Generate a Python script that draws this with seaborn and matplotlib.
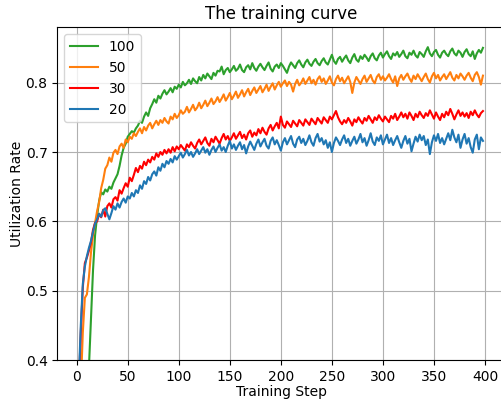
import matplotlib
matplotlib.use("Agg")
import matplotlib.pyplot as plt
import seaborn as sns
import numpy as np
import pandas as pd

steps = list(range(0, 400, 2))

series_names = ["100", "50", "30", "20"]
series_colors = ["#2ca02c", "#ff7f0e", "red", "#1f77b4"]

util_100 = [
    0.150, 0.190, 0.230, 0.270, 0.310, 0.350, 0.390, 0.460, 0.530, 0.580,
    0.608, 0.630, 0.642, 0.639, 0.646, 0.643, 0.650, 0.647, 0.656, 0.662,
    0.668, 0.680, 0.695, 0.706, 0.712, 0.722, 0.726, 0.730, 0.728, 0.734,
    0.738, 0.745, 0.742, 0.751, 0.757, 0.752, 0.763, 0.769, 0.776, 0.771,
    0.781, 0.777, 0.784, 0.789, 0.783, 0.787, 0.792, 0.786, 0.794, 0.791,
    0.797, 0.793, 0.801, 0.796, 0.799, 0.804, 0.798, 0.806, 0.802, 0.799,
    0.808, 0.803, 0.811, 0.806, 0.813, 0.809, 0.805, 0.814, 0.810, 0.817,
    0.816, 0.823, 0.812, 0.818, 0.821, 0.815, 0.819, 0.824, 0.817, 0.820,
    0.826, 0.818, 0.815, 0.822, 0.825, 0.819, 0.828, 0.821, 0.817, 0.823,
    0.827, 0.822, 0.818, 0.824, 0.829, 0.820, 0.816, 0.823, 0.826, 0.821,
    0.828, 0.824, 0.819, 0.814, 0.823, 0.829, 0.825, 0.821, 0.828, 0.832,
    0.826, 0.822, 0.829, 0.833, 0.827, 0.824, 0.830, 0.834, 0.828, 0.825,
    0.831, 0.835, 0.829, 0.826, 0.833, 0.840, 0.831, 0.827, 0.834, 0.837,
    0.830, 0.835, 0.839, 0.832, 0.828, 0.836, 0.841, 0.833, 0.830, 0.838,
    0.834, 0.840, 0.836, 0.831, 0.838, 0.842, 0.835, 0.832, 0.839, 0.843,
    0.836, 0.841, 0.845, 0.838, 0.834, 0.842, 0.839, 0.844, 0.837, 0.841,
    0.846, 0.838, 0.835, 0.843, 0.840, 0.846, 0.839, 0.836, 0.844, 0.841,
    0.837, 0.845, 0.851, 0.842, 0.838, 0.844, 0.847, 0.840, 0.836, 0.843,
    0.846, 0.841, 0.838, 0.845, 0.849, 0.842, 0.839, 0.846, 0.843, 0.837,
    0.844, 0.848, 0.841, 0.838, 0.845, 0.834, 0.842, 0.847, 0.843, 0.850,
]

util_50 = [
    0.200, 0.280, 0.360, 0.440, 0.490, 0.495, 0.520, 0.555, 0.580, 0.598,
    0.615, 0.628, 0.648, 0.660, 0.676, 0.681, 0.692, 0.686, 0.699, 0.703,
    0.697, 0.708, 0.712, 0.706, 0.718, 0.714, 0.722, 0.719, 0.727, 0.723,
    0.729, 0.734, 0.727, 0.736, 0.731, 0.738, 0.742, 0.734, 0.740, 0.745,
    0.739, 0.746, 0.742, 0.749, 0.744, 0.741, 0.751, 0.747, 0.755, 0.749,
    0.753, 0.760, 0.755, 0.758, 0.765, 0.757, 0.762, 0.768, 0.760, 0.764,
    0.771, 0.763, 0.768, 0.774, 0.766, 0.771, 0.777, 0.769, 0.773, 0.779,
    0.772, 0.777, 0.783, 0.774, 0.779, 0.785, 0.776, 0.781, 0.787, 0.778,
    0.783, 0.789, 0.780, 0.786, 0.791, 0.782, 0.788, 0.793, 0.785, 0.790,
    0.795, 0.786, 0.791, 0.797, 0.788, 0.794, 0.799, 0.790, 0.796, 0.801,
    0.794, 0.799, 0.803, 0.795, 0.801, 0.797, 0.787, 0.798, 0.804, 0.796,
    0.800, 0.806, 0.798, 0.803, 0.808, 0.799, 0.804, 0.797, 0.805, 0.809,
    0.801, 0.806, 0.798, 0.803, 0.809, 0.800, 0.796, 0.805, 0.810, 0.802,
    0.807, 0.799, 0.804, 0.809, 0.801, 0.785, 0.800, 0.808, 0.803, 0.798,
    0.805, 0.810, 0.801, 0.806, 0.811, 0.803, 0.799, 0.808, 0.812, 0.804,
    0.809, 0.803, 0.807, 0.812, 0.805, 0.800, 0.809, 0.795, 0.806, 0.811,
    0.804, 0.809, 0.813, 0.806, 0.801, 0.810, 0.805, 0.812, 0.807, 0.802,
    0.808, 0.813, 0.805, 0.800, 0.809, 0.814, 0.806, 0.811, 0.803, 0.808,
    0.812, 0.805, 0.810, 0.815, 0.807, 0.803, 0.811, 0.806, 0.813, 0.809,
    0.804, 0.810, 0.814, 0.807, 0.802, 0.811, 0.815, 0.808, 0.797, 0.810,
]

util_30 = [
    0.290, 0.360, 0.440, 0.505, 0.540, 0.548, 0.558, 0.570, 0.588, 0.598,
    0.600, 0.611, 0.606, 0.617, 0.607, 0.622, 0.626, 0.620, 0.632, 0.635,
    0.630, 0.645, 0.640, 0.648, 0.655, 0.650, 0.663, 0.658, 0.667, 0.677,
    0.671, 0.680, 0.676, 0.686, 0.681, 0.689, 0.685, 0.693, 0.689, 0.698,
    0.693, 0.700, 0.696, 0.703, 0.698, 0.704, 0.699, 0.707, 0.701, 0.708,
    0.704, 0.710, 0.706, 0.702, 0.711, 0.707, 0.714, 0.709, 0.705, 0.713,
    0.718, 0.711, 0.716, 0.721, 0.713, 0.709, 0.719, 0.714, 0.722, 0.717,
    0.712, 0.720, 0.726, 0.718, 0.723, 0.716, 0.721, 0.727, 0.719, 0.724,
    0.729, 0.720, 0.725, 0.718, 0.727, 0.731, 0.722, 0.728, 0.724, 0.733,
    0.727, 0.735, 0.729, 0.725, 0.734, 0.739, 0.731, 0.737, 0.742, 0.734,
    0.751, 0.739, 0.735, 0.744, 0.740, 0.736, 0.745, 0.741, 0.737, 0.746,
    0.742, 0.738, 0.747, 0.743, 0.739, 0.748, 0.744, 0.740, 0.749, 0.745,
    0.741, 0.750, 0.746, 0.742, 0.751, 0.747, 0.753, 0.759, 0.750, 0.744,
    0.740, 0.746, 0.742, 0.749, 0.744, 0.738, 0.747, 0.743, 0.750, 0.745,
    0.741, 0.749, 0.745, 0.752, 0.747, 0.742, 0.750, 0.746, 0.753, 0.748,
    0.744, 0.751, 0.747, 0.743, 0.752, 0.748, 0.755, 0.746, 0.751, 0.757,
    0.750, 0.755, 0.748, 0.757, 0.752, 0.746, 0.755, 0.750, 0.758, 0.753,
    0.749, 0.756, 0.752, 0.760, 0.754, 0.748, 0.757, 0.751, 0.746, 0.755,
    0.750, 0.758, 0.753, 0.762, 0.755, 0.747, 0.754, 0.760, 0.752, 0.757,
    0.751, 0.756, 0.749, 0.758, 0.753, 0.760, 0.754, 0.750, 0.756, 0.759,
]

util_20 = [
    0.300, 0.370, 0.450, 0.510, 0.535, 0.550, 0.562, 0.572, 0.585, 0.597,
    0.603, 0.611, 0.607, 0.616, 0.619, 0.611, 0.603, 0.612, 0.622, 0.617,
    0.626, 0.620, 0.628, 0.633, 0.627, 0.636, 0.633, 0.641, 0.636, 0.645,
    0.641, 0.652, 0.647, 0.658, 0.654, 0.664, 0.659, 0.668, 0.672, 0.666,
    0.678, 0.673, 0.683, 0.678, 0.687, 0.683, 0.690, 0.685, 0.694, 0.689,
    0.694, 0.699, 0.692, 0.697, 0.703, 0.695, 0.700, 0.693, 0.698, 0.704,
    0.697, 0.702, 0.707, 0.699, 0.704, 0.696, 0.703, 0.708, 0.700, 0.706,
    0.711, 0.702, 0.707, 0.700, 0.709, 0.716, 0.705, 0.711, 0.703, 0.709,
    0.714, 0.704, 0.710, 0.698, 0.708, 0.715, 0.709, 0.703, 0.712, 0.718,
    0.708, 0.714, 0.719, 0.709, 0.705, 0.716, 0.721, 0.711, 0.717, 0.710,
    0.702, 0.714, 0.720, 0.711, 0.717, 0.723, 0.712, 0.707, 0.718, 0.722,
    0.713, 0.719, 0.710, 0.716, 0.724, 0.714, 0.709, 0.720, 0.726, 0.715,
    0.720, 0.711, 0.717, 0.706, 0.714, 0.700, 0.713, 0.721, 0.716, 0.710,
    0.718, 0.724, 0.713, 0.719, 0.709, 0.716, 0.722, 0.712, 0.718, 0.726,
    0.714, 0.720, 0.709, 0.717, 0.727, 0.715, 0.710, 0.721, 0.716, 0.724,
    0.711, 0.718, 0.725, 0.713, 0.720, 0.710, 0.717, 0.723, 0.714, 0.706,
    0.716, 0.723, 0.712, 0.719, 0.701, 0.712, 0.722, 0.715, 0.725, 0.717,
    0.723, 0.710, 0.718, 0.697, 0.714, 0.724, 0.716, 0.726, 0.713, 0.720,
    0.711, 0.719, 0.727, 0.717, 0.732, 0.721, 0.714, 0.725, 0.706, 0.718,
    0.726, 0.712, 0.720, 0.707, 0.699, 0.718, 0.725, 0.704, 0.721, 0.716,
]

all_series = [util_100, util_50, util_30, util_20]
frames = []
for name, vals in zip(series_names, all_series):
    frames.append(pd.DataFrame({"step": steps, "util": vals, "size": name}))
df = pd.concat(frames, ignore_index=True)

fig = plt.figure(figsize=(5.02, 4.0), dpi=100)
ax = fig.add_axes([57.3 / 502, 39.7 / 400, 447.9 / 502, 333.0 / 400])

sns.lineplot(data=df, x="step", y="util", hue="size",
             hue_order=series_names,
             palette=dict(zip(series_names, series_colors)),
             linewidth=1.5, ax=ax, estimator=None, sort=False)

ax.set_xlim(-19.0, 419.8)
ax.set_ylim(0.4, 0.8796)
ax.set_xticks([0, 50, 100, 150, 200, 250, 300, 350, 400])
ax.set_yticks([0.4, 0.5, 0.6, 0.7, 0.8])
ax.grid(True, color="#b0b0b0", linewidth=0.8)
ax.set_axisbelow(True)
ax.set_title("The training curve", fontsize=12)
ax.set_xlabel("Training Step", fontsize=10, labelpad=1)
ax.set_ylabel("Utilization Rate", fontsize=10, labelpad=1)

handles, labels = ax.get_legend_handles_labels()
ax.legend(handles, labels, loc="upper left", fontsize=10)

fig.savefig("out.png", dpi=100)
